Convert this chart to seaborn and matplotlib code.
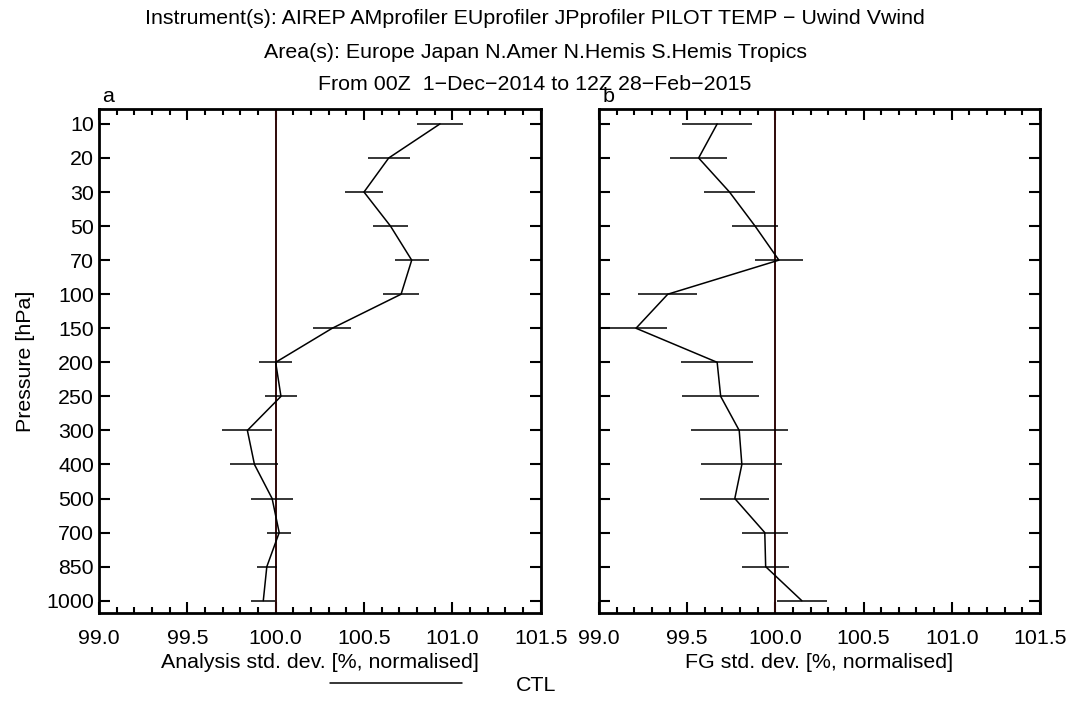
import matplotlib
matplotlib.use("Agg")
import matplotlib.pyplot as plt
import numpy as np
import pandas as pd
import seaborn as sns
from matplotlib.ticker import MultipleLocator

# pressure levels (hPa), plotted equally spaced
levels = [10, 20, 30, 50, 70, 100, 150, 200, 250, 300, 400, 500, 700, 850, 1000]

# panel a: analysis std. dev. (normalised, %)
an_val = [100.93, 100.64, 100.50, 100.65, 100.77, 100.71, 100.32, 100.00,
          100.03, 99.84, 99.88, 99.98, 100.02, 99.95, 99.93]
an_err = [0.132, 0.118, 0.106, 0.100, 0.096, 0.100, 0.108, 0.095,
          0.092, 0.142, 0.136, 0.119, 0.067, 0.057, 0.068]

# panel b: first-guess std. dev. (normalised, %)
fg_val = [99.67, 99.565, 99.74, 99.885, 100.02, 99.39, 99.21, 99.67,
          99.69, 99.795, 99.81, 99.77, 99.94, 99.945, 100.15]
fg_err = [0.20, 0.16, 0.145, 0.13, 0.135, 0.167, 0.178, 0.205,
          0.218, 0.275, 0.23, 0.195, 0.13, 0.135, 0.14]

titles = ["Instrument(s): AIREP AMprofiler EUprofiler JPprofiler PILOT TEMP \u2212 Uwind Vwind",
          "Area(s): Europe Japan N.Amer N.Hemis S.Hemis Tropics",
          "From 00Z  1\u2212Dec\u22122014 to 12Z 28\u2212Feb\u22122015"]

FS = 15.4

sns.set_theme(style="ticks")
plt.rcParams["font.family"] = ["Liberation Sans", "DejaVu Sans"]
plt.rcParams["font.size"] = FS
plt.rcParams["text.color"] = "black"
plt.rcParams["axes.labelcolor"] = "black"
plt.rcParams["xtick.color"] = "black"
plt.rcParams["ytick.color"] = "black"
plt.rcParams["axes.linewidth"] = 2.0
plt.rcParams["xtick.major.width"] = 1.5
plt.rcParams["ytick.major.width"] = 1.5
plt.rcParams["xtick.minor.width"] = 1.5

fig = plt.figure(figsize=(10.7, 7.11), dpi=100)
ax_a = fig.add_axes([0.0925, 0.1374, 0.4128, 0.7089])
ax_b = fig.add_axes([0.5598, 0.1374, 0.4121, 0.7089])

idx = np.arange(len(levels))
panels = [(ax_a, an_val, an_err, "Analysis std. dev. [%, normalised]", "a"),
          (ax_b, fg_val, fg_err, "FG std. dev. [%, normalised]", "b")]

for ax, val, err, xlabel, letter in panels:
    df = pd.DataFrame({"val": val, "idx": idx, "err": err})
    ax.axvline(100.0, color="#2e0808", lw=1.4, zorder=1)
    sns.lineplot(data=df, x="val", y="idx", sort=False, orient="y",
                 estimator=None, color="black", lw=1.1, ax=ax, label="CTL",
                 legend=False)
    ax.hlines(df["idx"], df["val"] - df["err"], df["val"] + df["err"],
              color="black", lw=1.1)
    ax.set_xlim(99.0, 101.5)
    ax.set_ylim(14.37, -0.43)
    ax.xaxis.set_major_locator(MultipleLocator(0.5))
    ax.xaxis.set_minor_locator(MultipleLocator(0.1))
    ax.xaxis.set_major_formatter(matplotlib.ticker.FormatStrFormatter("%.1f"))
    ax.set_yticks(idx)
    ax.tick_params(axis="both", which="both", direction="in",
                   top=True, right=True, labelsize=FS)
    ax.tick_params(axis="both", which="major", length=8)
    ax.tick_params(axis="x", which="minor", length=4.5)
    ax.tick_params(axis="x", pad=11)
    ax.set_xlabel(xlabel, fontsize=FS, labelpad=4)
    ax.text(0.008, 1.006, letter, transform=ax.transAxes, ha="left",
            va="bottom", fontsize=FS)
    for s in ax.spines.values():
        s.set_visible(True)
        s.set_color("black")

ax_a.set_yticklabels([str(p) for p in levels])
ax_a.set_ylabel("Pressure [hPa]", fontsize=FS, labelpad=8)
ax_b.set_yticklabels([])
ax_b.set_ylabel("")

for i, t in enumerate(titles):
    fig.text(0.5, 1 - (19 + 33 * i) / 711, t, ha="center", va="center",
             fontsize=FS)

handles, labels = ax_a.get_legend_handles_labels()
fig.legend(handles[:1], labels[:1], loc="center", bbox_to_anchor=(0.414, 0.036),
           frameon=False, handlelength=6.2, handletextpad=2.5, fontsize=FS,
           borderpad=0)

fig.savefig("out.png", dpi=100, facecolor="white")
